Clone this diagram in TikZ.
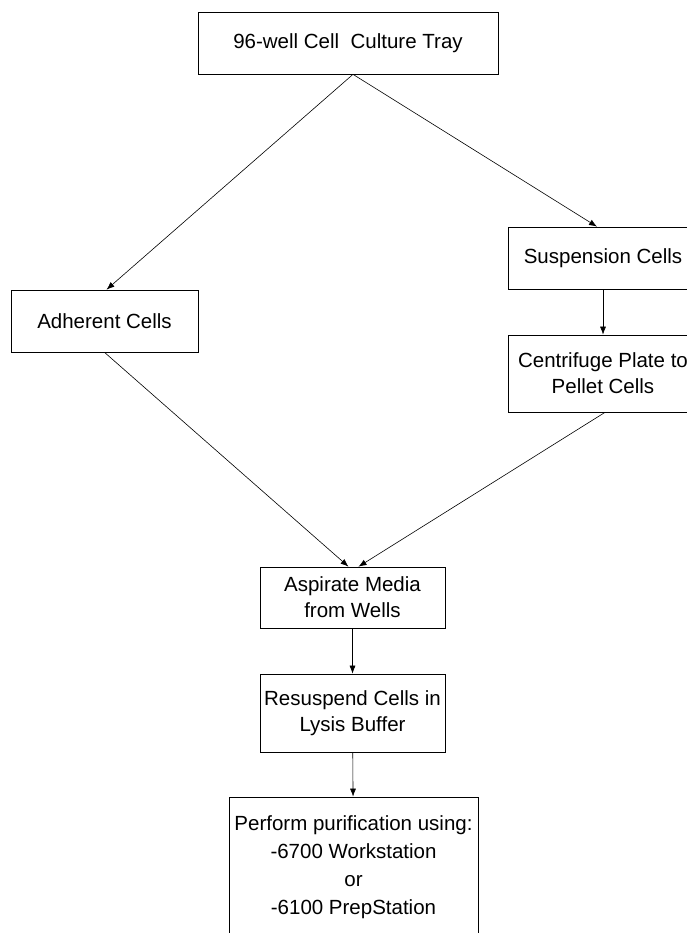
\documentclass[tikz,border=0pt]{standalone}
\usepackage{fontspec}
\setmainfont{Liberation Sans}
\usetikzlibrary{arrows.meta,positioning}

\tikzset{
  stepbox/.style={draw, line width=0.7pt, align=center, inner sep=0pt,
    font=\fontsize{20.5}{26}\selectfont},
  flow/.style={-{Latex[length=8pt,width=6pt]}, line width=0.6pt}
}

\begin{document}
\begin{tikzpicture}[x=1pt, y=-1pt]
      \useasboundingbox (0, 0) rectangle (687, 933);
      \clip (0, 0) rectangle (687, 933);
      \node (tray) [stepbox, minimum width=300, minimum height=62] at (348, 43) {96-well Cell\ \ Culture Tray};
      \node (adh) [stepbox, minimum width=187, minimum height=62] at (104.5, 321) {Adherent Cells};
      \node (susp) [stepbox, minimum width=190, minimum height=62] at (603, 258) {Suspension Cells};
      \node (cent) [stepbox, minimum width=190, minimum height=77] at (603, 373.5) {Centrifuge Plate to\\Pellet Cells};
      \node (asp) [stepbox, minimum width=185, minimum height=61] at (352.5, 597.5) {Aspirate Media\\from Wells};
      \node (resus) [stepbox, minimum width=185, minimum height=78] at (352.5, 713) {Resuspend Cells in\\Lysis Buffer};
      \node (purif) [stepbox, minimum width=249, minimum height=140, font=\fontsize{20.5}{28}\selectfont] at (353.5, 867) {Perform purification using:\\-6700 Workstation\\or\\-6100 PrepStation};
      % connectors
      \draw[flow] ([xshift=5]tray.south) -- ([xshift=2]adh.north);
      \draw[flow] ([xshift=5]tray.south) -- ([xshift=-6]susp.north);
      \draw[flow] (susp) -- (cent);
      \draw[flow] (adh.south) -- ([xshift=-4]asp.north);
      \draw[flow] ([xshift=2]cent.south) -- ([xshift=6]asp.north);
      \draw[flow] (asp) -- (resus);
      \draw[flow] (resus) -- (purif);
\end{tikzpicture}
\end{document}
